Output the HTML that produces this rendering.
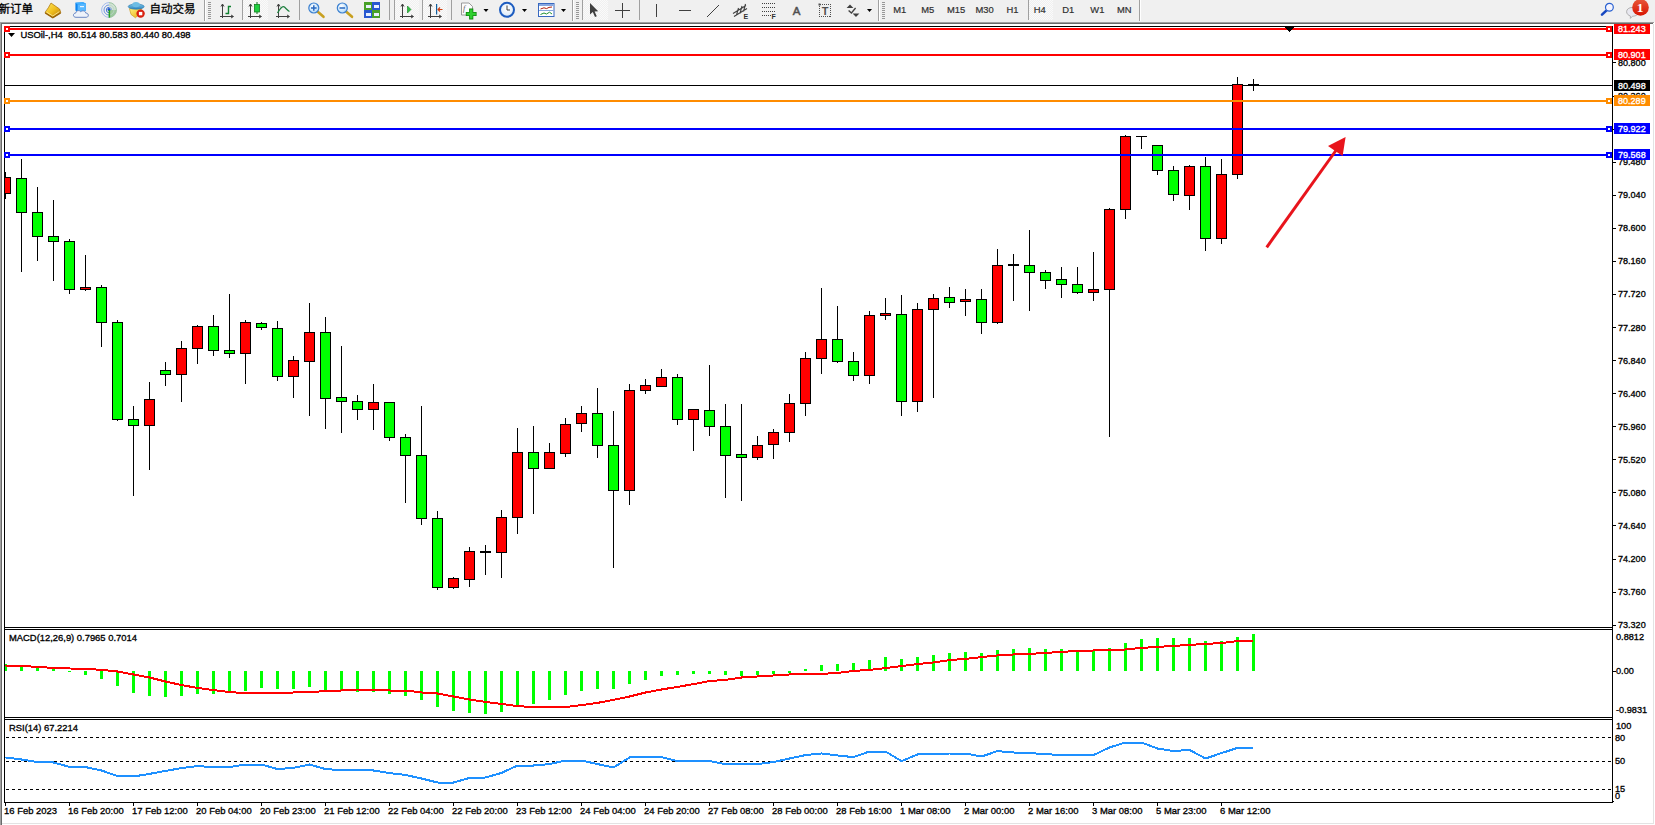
<!DOCTYPE html>
<html><head><meta charset="utf-8"><title>USOil-,H4</title>
<style>
html,body{margin:0;padding:0;background:#f0f0f0;overflow:hidden}
body{width:1655px;height:825px;position:relative;font-family:"Liberation Sans","Noto Sans CJK SC",sans-serif}
#tb{position:absolute;left:0;top:0;width:1655px;height:22px;background:#f0f0f0;overflow:hidden}
</style></head><body>
<svg id="chart" width="1655" height="825" viewBox="0 0 1655 825" style="position:absolute;left:0;top:0">
<defs><clipPath id="cm"><rect x="5" y="27" width="1607" height="600"/></clipPath><clipPath id="c2"><rect x="5" y="630" width="1607" height="87"/></clipPath><clipPath id="c3"><rect x="5" y="720" width="1607" height="82"/></clipPath></defs>
<g shape-rendering="crispEdges">
<rect x="0" y="22" width="1655" height="803" fill="#fff"/>
<rect x="0" y="22" width="1654" height="1" fill="#a0a0a0"/><rect x="0" y="23" width="1653" height="1" fill="#696969"/>
<rect x="0" y="22" width="1" height="803" fill="#a0a0a0"/><rect x="1" y="23" width="1" height="802" fill="#696969"/>
<rect x="1653" y="24" width="1" height="800" fill="#e3e3e3"/>
<rect x="2" y="823" width="1652" height="1" fill="#e3e3e3"/>
<rect x="1613" y="801" width="1" height="1" fill="#000"/>
<rect x="4" y="26" width="1609" height="1" fill="#000"/>
<rect x="4" y="26" width="1" height="777" fill="#000"/>
<rect x="1612" y="26" width="1" height="777" fill="#000"/>
<rect x="4" y="627" width="1609" height="1" fill="#000"/><rect x="4" y="629" width="1609" height="1" fill="#000"/>
<rect x="4" y="717" width="1609" height="1" fill="#000"/><rect x="4" y="719" width="1609" height="1" fill="#000"/>
<rect x="4" y="802" width="1609" height="1" fill="#000"/>
<rect x="5" y="85" width="1607" height="1" fill="#000"/>
<g clip-path="url(#cm)">
<rect x="5" y="172" width="1" height="27" fill="#000"/>
<rect x="0" y="177" width="11" height="17" fill="#000"/>
<rect x="1" y="178" width="9" height="15" fill="#FF0000"/>
<rect x="21" y="159" width="1" height="113" fill="#000"/>
<rect x="16" y="178" width="11" height="35" fill="#000"/>
<rect x="17" y="179" width="9" height="33" fill="#00FF00"/>
<rect x="37" y="187" width="1" height="74" fill="#000"/>
<rect x="32" y="212" width="11" height="25" fill="#000"/>
<rect x="33" y="213" width="9" height="23" fill="#00FF00"/>
<rect x="53" y="200" width="1" height="81" fill="#000"/>
<rect x="48" y="236" width="11" height="6" fill="#000"/>
<rect x="49" y="237" width="9" height="4" fill="#00FF00"/>
<rect x="69" y="239" width="1" height="55" fill="#000"/>
<rect x="64" y="241" width="11" height="49" fill="#000"/>
<rect x="65" y="242" width="9" height="47" fill="#00FF00"/>
<rect x="85" y="255" width="1" height="36" fill="#000"/>
<rect x="80" y="287" width="11" height="3" fill="#000"/>
<rect x="81" y="288" width="9" height="1" fill="#FF0000"/>
<rect x="101" y="285" width="1" height="62" fill="#000"/>
<rect x="96" y="287" width="11" height="36" fill="#000"/>
<rect x="97" y="288" width="9" height="34" fill="#00FF00"/>
<rect x="117" y="320" width="1" height="101" fill="#000"/>
<rect x="112" y="322" width="11" height="98" fill="#000"/>
<rect x="113" y="323" width="9" height="96" fill="#00FF00"/>
<rect x="133" y="406" width="1" height="90" fill="#000"/>
<rect x="128" y="419" width="11" height="7" fill="#000"/>
<rect x="129" y="420" width="9" height="5" fill="#00FF00"/>
<rect x="149" y="382" width="1" height="88" fill="#000"/>
<rect x="144" y="399" width="11" height="27" fill="#000"/>
<rect x="145" y="400" width="9" height="25" fill="#FF0000"/>
<rect x="165" y="362" width="1" height="24" fill="#000"/>
<rect x="160" y="370" width="11" height="5" fill="#000"/>
<rect x="161" y="371" width="9" height="3" fill="#00FF00"/>
<rect x="181" y="341" width="1" height="61" fill="#000"/>
<rect x="176" y="348" width="11" height="27" fill="#000"/>
<rect x="177" y="349" width="9" height="25" fill="#FF0000"/>
<rect x="197" y="325" width="1" height="39" fill="#000"/>
<rect x="192" y="326" width="11" height="23" fill="#000"/>
<rect x="193" y="327" width="9" height="21" fill="#FF0000"/>
<rect x="213" y="315" width="1" height="41" fill="#000"/>
<rect x="208" y="326" width="11" height="25" fill="#000"/>
<rect x="209" y="327" width="9" height="23" fill="#00FF00"/>
<rect x="229" y="294" width="1" height="64" fill="#000"/>
<rect x="224" y="350" width="11" height="4" fill="#000"/>
<rect x="225" y="351" width="9" height="2" fill="#00FF00"/>
<rect x="245" y="320" width="1" height="64" fill="#000"/>
<rect x="240" y="322" width="11" height="32" fill="#000"/>
<rect x="241" y="323" width="9" height="30" fill="#FF0000"/>
<rect x="261" y="322" width="1" height="8" fill="#000"/>
<rect x="256" y="323" width="11" height="5" fill="#000"/>
<rect x="257" y="324" width="9" height="3" fill="#00FF00"/>
<rect x="277" y="321" width="1" height="60" fill="#000"/>
<rect x="272" y="328" width="11" height="49" fill="#000"/>
<rect x="273" y="329" width="9" height="47" fill="#00FF00"/>
<rect x="293" y="356" width="1" height="42" fill="#000"/>
<rect x="288" y="360" width="11" height="17" fill="#000"/>
<rect x="289" y="361" width="9" height="15" fill="#FF0000"/>
<rect x="309" y="303" width="1" height="113" fill="#000"/>
<rect x="304" y="332" width="11" height="30" fill="#000"/>
<rect x="305" y="333" width="9" height="28" fill="#FF0000"/>
<rect x="325" y="317" width="1" height="112" fill="#000"/>
<rect x="320" y="332" width="11" height="67" fill="#000"/>
<rect x="321" y="333" width="9" height="65" fill="#00FF00"/>
<rect x="341" y="346" width="1" height="87" fill="#000"/>
<rect x="336" y="397" width="11" height="5" fill="#000"/>
<rect x="337" y="398" width="9" height="3" fill="#00FF00"/>
<rect x="357" y="395" width="1" height="25" fill="#000"/>
<rect x="352" y="401" width="11" height="9" fill="#000"/>
<rect x="353" y="402" width="9" height="7" fill="#00FF00"/>
<rect x="373" y="384" width="1" height="46" fill="#000"/>
<rect x="368" y="402" width="11" height="8" fill="#000"/>
<rect x="369" y="403" width="9" height="6" fill="#FF0000"/>
<rect x="389" y="402" width="1" height="39" fill="#000"/>
<rect x="384" y="402" width="11" height="36" fill="#000"/>
<rect x="385" y="403" width="9" height="34" fill="#00FF00"/>
<rect x="405" y="434" width="1" height="69" fill="#000"/>
<rect x="400" y="437" width="11" height="19" fill="#000"/>
<rect x="401" y="438" width="9" height="17" fill="#00FF00"/>
<rect x="421" y="406" width="1" height="119" fill="#000"/>
<rect x="416" y="455" width="11" height="64" fill="#000"/>
<rect x="417" y="456" width="9" height="62" fill="#00FF00"/>
<rect x="437" y="511" width="1" height="79" fill="#000"/>
<rect x="432" y="518" width="11" height="70" fill="#000"/>
<rect x="433" y="519" width="9" height="68" fill="#00FF00"/>
<rect x="453" y="577" width="1" height="12" fill="#000"/>
<rect x="448" y="578" width="11" height="10" fill="#000"/>
<rect x="449" y="579" width="9" height="8" fill="#FF0000"/>
<rect x="469" y="547" width="1" height="40" fill="#000"/>
<rect x="464" y="551" width="11" height="29" fill="#000"/>
<rect x="465" y="552" width="9" height="27" fill="#FF0000"/>
<rect x="485" y="545" width="1" height="30" fill="#000"/>
<rect x="480" y="551" width="11" height="2" fill="#000"/>
<rect x="501" y="510" width="1" height="68" fill="#000"/>
<rect x="496" y="517" width="11" height="36" fill="#000"/>
<rect x="497" y="518" width="9" height="34" fill="#FF0000"/>
<rect x="517" y="428" width="1" height="106" fill="#000"/>
<rect x="512" y="452" width="11" height="66" fill="#000"/>
<rect x="513" y="453" width="9" height="64" fill="#FF0000"/>
<rect x="533" y="426" width="1" height="88" fill="#000"/>
<rect x="528" y="452" width="11" height="17" fill="#000"/>
<rect x="529" y="453" width="9" height="15" fill="#00FF00"/>
<rect x="549" y="443" width="1" height="25" fill="#000"/>
<rect x="544" y="452" width="11" height="17" fill="#000"/>
<rect x="545" y="453" width="9" height="15" fill="#FF0000"/>
<rect x="565" y="418" width="1" height="39" fill="#000"/>
<rect x="560" y="424" width="11" height="30" fill="#000"/>
<rect x="561" y="425" width="9" height="28" fill="#FF0000"/>
<rect x="581" y="406" width="1" height="26" fill="#000"/>
<rect x="576" y="413" width="11" height="11" fill="#000"/>
<rect x="577" y="414" width="9" height="9" fill="#FF0000"/>
<rect x="597" y="388" width="1" height="70" fill="#000"/>
<rect x="592" y="413" width="11" height="33" fill="#000"/>
<rect x="593" y="414" width="9" height="31" fill="#00FF00"/>
<rect x="613" y="411" width="1" height="157" fill="#000"/>
<rect x="608" y="445" width="11" height="46" fill="#000"/>
<rect x="609" y="446" width="9" height="44" fill="#00FF00"/>
<rect x="629" y="384" width="1" height="121" fill="#000"/>
<rect x="624" y="390" width="11" height="101" fill="#000"/>
<rect x="625" y="391" width="9" height="99" fill="#FF0000"/>
<rect x="645" y="379" width="1" height="15" fill="#000"/>
<rect x="640" y="385" width="11" height="6" fill="#000"/>
<rect x="641" y="386" width="9" height="4" fill="#FF0000"/>
<rect x="661" y="369" width="1" height="17" fill="#000"/>
<rect x="656" y="377" width="11" height="10" fill="#000"/>
<rect x="657" y="378" width="9" height="8" fill="#FF0000"/>
<rect x="677" y="374" width="1" height="51" fill="#000"/>
<rect x="672" y="377" width="11" height="43" fill="#000"/>
<rect x="673" y="378" width="9" height="41" fill="#00FF00"/>
<rect x="693" y="409" width="1" height="42" fill="#000"/>
<rect x="688" y="409" width="11" height="11" fill="#000"/>
<rect x="689" y="410" width="9" height="9" fill="#FF0000"/>
<rect x="709" y="365" width="1" height="71" fill="#000"/>
<rect x="704" y="410" width="11" height="17" fill="#000"/>
<rect x="705" y="411" width="9" height="15" fill="#00FF00"/>
<rect x="725" y="404" width="1" height="94" fill="#000"/>
<rect x="720" y="426" width="11" height="30" fill="#000"/>
<rect x="721" y="427" width="9" height="28" fill="#00FF00"/>
<rect x="741" y="404" width="1" height="97" fill="#000"/>
<rect x="736" y="454" width="11" height="4" fill="#000"/>
<rect x="737" y="455" width="9" height="2" fill="#00FF00"/>
<rect x="757" y="436" width="1" height="24" fill="#000"/>
<rect x="752" y="445" width="11" height="13" fill="#000"/>
<rect x="753" y="446" width="9" height="11" fill="#FF0000"/>
<rect x="773" y="429" width="1" height="30" fill="#000"/>
<rect x="768" y="432" width="11" height="13" fill="#000"/>
<rect x="769" y="433" width="9" height="11" fill="#FF0000"/>
<rect x="789" y="394" width="1" height="48" fill="#000"/>
<rect x="784" y="403" width="11" height="30" fill="#000"/>
<rect x="785" y="404" width="9" height="28" fill="#FF0000"/>
<rect x="805" y="352" width="1" height="64" fill="#000"/>
<rect x="800" y="358" width="11" height="46" fill="#000"/>
<rect x="801" y="359" width="9" height="44" fill="#FF0000"/>
<rect x="821" y="288" width="1" height="86" fill="#000"/>
<rect x="816" y="339" width="11" height="20" fill="#000"/>
<rect x="817" y="340" width="9" height="18" fill="#FF0000"/>
<rect x="837" y="306" width="1" height="57" fill="#000"/>
<rect x="832" y="339" width="11" height="23" fill="#000"/>
<rect x="833" y="340" width="9" height="21" fill="#00FF00"/>
<rect x="853" y="352" width="1" height="29" fill="#000"/>
<rect x="848" y="361" width="11" height="15" fill="#000"/>
<rect x="849" y="362" width="9" height="13" fill="#00FF00"/>
<rect x="869" y="311" width="1" height="73" fill="#000"/>
<rect x="864" y="315" width="11" height="61" fill="#000"/>
<rect x="865" y="316" width="9" height="59" fill="#FF0000"/>
<rect x="885" y="298" width="1" height="22" fill="#000"/>
<rect x="880" y="313" width="11" height="3" fill="#000"/>
<rect x="881" y="314" width="9" height="1" fill="#FF0000"/>
<rect x="901" y="295" width="1" height="121" fill="#000"/>
<rect x="896" y="314" width="11" height="88" fill="#000"/>
<rect x="897" y="315" width="9" height="86" fill="#00FF00"/>
<rect x="917" y="303" width="1" height="109" fill="#000"/>
<rect x="912" y="309" width="11" height="93" fill="#000"/>
<rect x="913" y="310" width="9" height="91" fill="#FF0000"/>
<rect x="933" y="294" width="1" height="104" fill="#000"/>
<rect x="928" y="298" width="11" height="12" fill="#000"/>
<rect x="929" y="299" width="9" height="10" fill="#FF0000"/>
<rect x="949" y="287" width="1" height="21" fill="#000"/>
<rect x="944" y="297" width="11" height="6" fill="#000"/>
<rect x="945" y="298" width="9" height="4" fill="#00FF00"/>
<rect x="965" y="289" width="1" height="27" fill="#000"/>
<rect x="960" y="299" width="11" height="3" fill="#000"/>
<rect x="961" y="300" width="9" height="1" fill="#FF0000"/>
<rect x="981" y="289" width="1" height="45" fill="#000"/>
<rect x="976" y="299" width="11" height="24" fill="#000"/>
<rect x="977" y="300" width="9" height="22" fill="#00FF00"/>
<rect x="997" y="249" width="1" height="75" fill="#000"/>
<rect x="992" y="265" width="11" height="58" fill="#000"/>
<rect x="993" y="266" width="9" height="56" fill="#FF0000"/>
<rect x="1013" y="254" width="1" height="47" fill="#000"/>
<rect x="1008" y="264" width="11" height="2" fill="#000"/>
<rect x="1029" y="230" width="1" height="81" fill="#000"/>
<rect x="1024" y="265" width="11" height="8" fill="#000"/>
<rect x="1025" y="266" width="9" height="6" fill="#00FF00"/>
<rect x="1045" y="270" width="1" height="19" fill="#000"/>
<rect x="1040" y="272" width="11" height="9" fill="#000"/>
<rect x="1041" y="273" width="9" height="7" fill="#00FF00"/>
<rect x="1061" y="267" width="1" height="31" fill="#000"/>
<rect x="1056" y="279" width="11" height="6" fill="#000"/>
<rect x="1057" y="280" width="9" height="4" fill="#00FF00"/>
<rect x="1077" y="267" width="1" height="27" fill="#000"/>
<rect x="1072" y="284" width="11" height="9" fill="#000"/>
<rect x="1073" y="285" width="9" height="7" fill="#00FF00"/>
<rect x="1093" y="252" width="1" height="49" fill="#000"/>
<rect x="1088" y="289" width="11" height="4" fill="#000"/>
<rect x="1089" y="290" width="9" height="2" fill="#FF0000"/>
<rect x="1109" y="208" width="1" height="229" fill="#000"/>
<rect x="1104" y="209" width="11" height="81" fill="#000"/>
<rect x="1105" y="210" width="9" height="79" fill="#FF0000"/>
<rect x="1125" y="135" width="1" height="84" fill="#000"/>
<rect x="1120" y="136" width="11" height="74" fill="#000"/>
<rect x="1121" y="137" width="9" height="72" fill="#FF0000"/>
<rect x="1141" y="136" width="1" height="13" fill="#000"/>
<rect x="1136" y="136" width="11" height="1" fill="#000"/>
<rect x="1157" y="145" width="1" height="30" fill="#000"/>
<rect x="1152" y="145" width="11" height="26" fill="#000"/>
<rect x="1153" y="146" width="9" height="24" fill="#00FF00"/>
<rect x="1173" y="166" width="1" height="35" fill="#000"/>
<rect x="1168" y="170" width="11" height="25" fill="#000"/>
<rect x="1169" y="171" width="9" height="23" fill="#00FF00"/>
<rect x="1189" y="165" width="1" height="45" fill="#000"/>
<rect x="1184" y="166" width="11" height="30" fill="#000"/>
<rect x="1185" y="167" width="9" height="28" fill="#FF0000"/>
<rect x="1205" y="157" width="1" height="94" fill="#000"/>
<rect x="1200" y="166" width="11" height="73" fill="#000"/>
<rect x="1201" y="167" width="9" height="71" fill="#00FF00"/>
<rect x="1221" y="159" width="1" height="85" fill="#000"/>
<rect x="1216" y="174" width="11" height="65" fill="#000"/>
<rect x="1217" y="175" width="9" height="63" fill="#FF0000"/>
<rect x="1237" y="77" width="1" height="102" fill="#000"/>
<rect x="1232" y="84" width="11" height="91" fill="#000"/>
<rect x="1233" y="85" width="9" height="89" fill="#FF0000"/>
<rect x="1253" y="79" width="1" height="12" fill="#000"/>
<rect x="1248" y="84" width="11" height="1" fill="#000"/>
</g>
<rect x="5" y="28" width="1607" height="2" fill="#FF0000"/>
<rect x="4" y="26" width="6" height="6" fill="#FF0000"/><rect x="6" y="28" width="2" height="2" fill="#fff"/>
<rect x="1606" y="26" width="6" height="6" fill="#FF0000"/><rect x="1608" y="28" width="2" height="2" fill="#fff"/>
<rect x="5" y="54" width="1607" height="2" fill="#FF0000"/>
<rect x="4" y="52" width="6" height="6" fill="#FF0000"/><rect x="6" y="54" width="2" height="2" fill="#fff"/>
<rect x="1606" y="52" width="6" height="6" fill="#FF0000"/><rect x="1608" y="54" width="2" height="2" fill="#fff"/>
<rect x="5" y="100" width="1607" height="2" fill="#FF8C00"/>
<rect x="4" y="98" width="6" height="6" fill="#FF8C00"/><rect x="6" y="100" width="2" height="2" fill="#fff"/>
<rect x="1606" y="98" width="6" height="6" fill="#FF8C00"/><rect x="1608" y="100" width="2" height="2" fill="#fff"/>
<rect x="5" y="128" width="1607" height="2" fill="#0000FF"/>
<rect x="4" y="126" width="6" height="6" fill="#0000FF"/><rect x="6" y="128" width="2" height="2" fill="#fff"/>
<rect x="1606" y="126" width="6" height="6" fill="#0000FF"/><rect x="1608" y="128" width="2" height="2" fill="#fff"/>
<rect x="5" y="154" width="1607" height="2" fill="#0000FF"/>
<rect x="4" y="152" width="6" height="6" fill="#0000FF"/><rect x="6" y="154" width="2" height="2" fill="#fff"/>
<rect x="1606" y="152" width="6" height="6" fill="#0000FF"/><rect x="1608" y="154" width="2" height="2" fill="#fff"/>
<rect x="1285" y="27" width="9" height="1" fill="#000"/>
<rect x="1286" y="28" width="7" height="1" fill="#000"/>
<rect x="1287" y="29" width="5" height="1" fill="#000"/>
<rect x="1288" y="30" width="3" height="1" fill="#000"/>
<rect x="1289" y="31" width="1" height="1" fill="#000"/>
<rect x="1613" y="62" width="3" height="1" fill="#000"/>
<rect x="1613" y="96" width="3" height="1" fill="#000"/>
<rect x="1613" y="129" width="3" height="1" fill="#000"/>
<rect x="1613" y="162" width="3" height="1" fill="#000"/>
<rect x="1613" y="195" width="3" height="1" fill="#000"/>
<rect x="1613" y="228" width="3" height="1" fill="#000"/>
<rect x="1613" y="261" width="3" height="1" fill="#000"/>
<rect x="1613" y="294" width="3" height="1" fill="#000"/>
<rect x="1613" y="327" width="3" height="1" fill="#000"/>
<rect x="1613" y="360" width="3" height="1" fill="#000"/>
<rect x="1613" y="393" width="3" height="1" fill="#000"/>
<rect x="1613" y="426" width="3" height="1" fill="#000"/>
<rect x="1613" y="459" width="3" height="1" fill="#000"/>
<rect x="1613" y="492" width="3" height="1" fill="#000"/>
<rect x="1613" y="525" width="3" height="1" fill="#000"/>
<rect x="1613" y="559" width="3" height="1" fill="#000"/>
<rect x="1613" y="592" width="3" height="1" fill="#000"/>
<rect x="1613" y="625" width="3" height="1" fill="#000"/>
<rect x="1613" y="671" width="3" height="1" fill="#000"/>
<g clip-path="url(#c2)">
<rect x="4" y="664" width="3" height="7" fill="#00FF00"/>
<rect x="20" y="665" width="3" height="6" fill="#00FF00"/>
<rect x="36" y="666" width="3" height="5" fill="#00FF00"/>
<rect x="52" y="667" width="3" height="4" fill="#00FF00"/>
<rect x="68" y="671" width="3" height="1" fill="#00FF00"/>
<rect x="84" y="671" width="3" height="4" fill="#00FF00"/>
<rect x="100" y="671" width="3" height="8" fill="#00FF00"/>
<rect x="116" y="671" width="3" height="15" fill="#00FF00"/>
<rect x="132" y="671" width="3" height="22" fill="#00FF00"/>
<rect x="148" y="671" width="3" height="25" fill="#00FF00"/>
<rect x="164" y="671" width="3" height="26" fill="#00FF00"/>
<rect x="180" y="671" width="3" height="25" fill="#00FF00"/>
<rect x="196" y="671" width="3" height="23" fill="#00FF00"/>
<rect x="212" y="671" width="3" height="23" fill="#00FF00"/>
<rect x="228" y="671" width="3" height="21" fill="#00FF00"/>
<rect x="244" y="671" width="3" height="20" fill="#00FF00"/>
<rect x="260" y="671" width="3" height="17" fill="#00FF00"/>
<rect x="276" y="671" width="3" height="18" fill="#00FF00"/>
<rect x="292" y="671" width="3" height="18" fill="#00FF00"/>
<rect x="308" y="671" width="3" height="16" fill="#00FF00"/>
<rect x="324" y="671" width="3" height="19" fill="#00FF00"/>
<rect x="340" y="671" width="3" height="19" fill="#00FF00"/>
<rect x="356" y="671" width="3" height="21" fill="#00FF00"/>
<rect x="372" y="671" width="3" height="21" fill="#00FF00"/>
<rect x="388" y="671" width="3" height="23" fill="#00FF00"/>
<rect x="404" y="671" width="3" height="25" fill="#00FF00"/>
<rect x="420" y="671" width="3" height="29" fill="#00FF00"/>
<rect x="436" y="671" width="3" height="36" fill="#00FF00"/>
<rect x="452" y="671" width="3" height="40" fill="#00FF00"/>
<rect x="468" y="671" width="3" height="42" fill="#00FF00"/>
<rect x="484" y="671" width="3" height="43" fill="#00FF00"/>
<rect x="500" y="671" width="3" height="41" fill="#00FF00"/>
<rect x="516" y="671" width="3" height="36" fill="#00FF00"/>
<rect x="532" y="671" width="3" height="33" fill="#00FF00"/>
<rect x="548" y="671" width="3" height="29" fill="#00FF00"/>
<rect x="564" y="671" width="3" height="24" fill="#00FF00"/>
<rect x="580" y="671" width="3" height="20" fill="#00FF00"/>
<rect x="596" y="671" width="3" height="18" fill="#00FF00"/>
<rect x="612" y="671" width="3" height="18" fill="#00FF00"/>
<rect x="628" y="671" width="3" height="13" fill="#00FF00"/>
<rect x="644" y="671" width="3" height="9" fill="#00FF00"/>
<rect x="660" y="671" width="3" height="5" fill="#00FF00"/>
<rect x="676" y="671" width="3" height="4" fill="#00FF00"/>
<rect x="692" y="671" width="3" height="3" fill="#00FF00"/>
<rect x="708" y="671" width="3" height="3" fill="#00FF00"/>
<rect x="724" y="671" width="3" height="4" fill="#00FF00"/>
<rect x="740" y="671" width="3" height="5" fill="#00FF00"/>
<rect x="756" y="671" width="3" height="4" fill="#00FF00"/>
<rect x="772" y="671" width="3" height="3" fill="#00FF00"/>
<rect x="788" y="671" width="3" height="2" fill="#00FF00"/>
<rect x="804" y="669" width="3" height="2" fill="#00FF00"/>
<rect x="820" y="665" width="3" height="6" fill="#00FF00"/>
<rect x="836" y="664" width="3" height="7" fill="#00FF00"/>
<rect x="852" y="663" width="3" height="8" fill="#00FF00"/>
<rect x="868" y="660" width="3" height="11" fill="#00FF00"/>
<rect x="884" y="657" width="3" height="14" fill="#00FF00"/>
<rect x="900" y="659" width="3" height="12" fill="#00FF00"/>
<rect x="916" y="657" width="3" height="14" fill="#00FF00"/>
<rect x="932" y="655" width="3" height="16" fill="#00FF00"/>
<rect x="948" y="653" width="3" height="18" fill="#00FF00"/>
<rect x="964" y="652" width="3" height="19" fill="#00FF00"/>
<rect x="980" y="653" width="3" height="18" fill="#00FF00"/>
<rect x="996" y="650" width="3" height="21" fill="#00FF00"/>
<rect x="1012" y="649" width="3" height="22" fill="#00FF00"/>
<rect x="1028" y="648" width="3" height="23" fill="#00FF00"/>
<rect x="1044" y="649" width="3" height="22" fill="#00FF00"/>
<rect x="1060" y="649" width="3" height="22" fill="#00FF00"/>
<rect x="1076" y="650" width="3" height="21" fill="#00FF00"/>
<rect x="1092" y="650" width="3" height="21" fill="#00FF00"/>
<rect x="1108" y="648" width="3" height="23" fill="#00FF00"/>
<rect x="1124" y="643" width="3" height="28" fill="#00FF00"/>
<rect x="1140" y="639" width="3" height="32" fill="#00FF00"/>
<rect x="1156" y="638" width="3" height="33" fill="#00FF00"/>
<rect x="1172" y="638" width="3" height="33" fill="#00FF00"/>
<rect x="1188" y="638" width="3" height="33" fill="#00FF00"/>
<rect x="1204" y="641" width="3" height="30" fill="#00FF00"/>
<rect x="1220" y="641" width="3" height="30" fill="#00FF00"/>
<rect x="1236" y="637" width="3" height="34" fill="#00FF00"/>
<rect x="1252" y="634" width="3" height="37" fill="#00FF00"/>
</g>
<path d="M6 737.5 H1612" stroke="#000" stroke-width="1" stroke-dasharray="3 3" fill="none"/>
<path d="M6 761.5 H1612" stroke="#000" stroke-width="1" stroke-dasharray="3 3" fill="none"/>
<path d="M6 789.5 H1612" stroke="#000" stroke-width="1" stroke-dasharray="3 3" fill="none"/>
<rect x="5" y="803" width="1" height="3" fill="#000"/>
<rect x="69" y="803" width="1" height="3" fill="#000"/>
<rect x="133" y="803" width="1" height="3" fill="#000"/>
<rect x="197" y="803" width="1" height="3" fill="#000"/>
<rect x="261" y="803" width="1" height="3" fill="#000"/>
<rect x="325" y="803" width="1" height="3" fill="#000"/>
<rect x="389" y="803" width="1" height="3" fill="#000"/>
<rect x="453" y="803" width="1" height="3" fill="#000"/>
<rect x="517" y="803" width="1" height="3" fill="#000"/>
<rect x="581" y="803" width="1" height="3" fill="#000"/>
<rect x="645" y="803" width="1" height="3" fill="#000"/>
<rect x="709" y="803" width="1" height="3" fill="#000"/>
<rect x="773" y="803" width="1" height="3" fill="#000"/>
<rect x="837" y="803" width="1" height="3" fill="#000"/>
<rect x="901" y="803" width="1" height="3" fill="#000"/>
<rect x="965" y="803" width="1" height="3" fill="#000"/>
<rect x="1029" y="803" width="1" height="3" fill="#000"/>
<rect x="1093" y="803" width="1" height="3" fill="#000"/>
<rect x="1157" y="803" width="1" height="3" fill="#000"/>
<rect x="1221" y="803" width="1" height="3" fill="#000"/>
</g>
<polyline clip-path="url(#c2)" points="5.5,665.5 21.5,665.9 37.5,666.9 53.5,667.9 69.5,668.5 85.5,668.7 101.5,669.9 117.5,671.5 133.5,674.5 149.5,677.5 165.5,681.5 181.5,685.1 197.5,687.9 213.5,690.1 229.5,692.1 245.5,693.1 261.5,693.1 277.5,692.9 293.5,692.5 309.5,692.1 325.5,691.1 341.5,690.5 357.5,689.5 373.5,689.5 389.5,690.5 405.5,690.5 421.5,692.5 437.5,693.5 453.5,696.5 469.5,699.5 485.5,701.9 501.5,703.9 517.5,706.1 533.5,707.1 549.5,707.5 565.5,707.1 581.5,705.1 597.5,702.9 613.5,699.9 629.5,696.5 645.5,692.5 661.5,689.5 677.5,686.9 693.5,684.1 709.5,681.1 725.5,679.9 741.5,677.5 757.5,676.5 773.5,675.5 789.5,674.5 805.5,674.1 821.5,673.9 837.5,672.9 853.5,670.9 869.5,669.9 885.5,668.1 901.5,666.1 917.5,664.1 933.5,662.5 949.5,660.1 965.5,658.9 981.5,657.1 997.5,655.5 1013.5,654.5 1029.5,653.9 1045.5,652.9 1061.5,651.9 1077.5,650.9 1093.5,650.5 1109.5,650.1 1125.5,649.5 1141.5,647.9 1157.5,646.9 1173.5,645.9 1189.5,644.9 1205.5,643.9 1221.5,643.1 1237.5,641.1 1253.5,640.5" fill="none" stroke="#FF0000" stroke-width="2" stroke-linejoin="round" shape-rendering="crispEdges"/>
<polyline clip-path="url(#c3)" points="5.5,757.5 21.5,759.5 37.5,762.1 53.5,762.5 69.5,766.9 85.5,767.1 101.5,770.5 117.5,776.1 133.5,776.5 149.5,773.9 165.5,770.9 181.5,768.1 197.5,766.1 213.5,767.1 229.5,767.1 245.5,764.5 261.5,764.5 277.5,769.1 293.5,767.9 309.5,764.5 325.5,769.1 341.5,770.1 357.5,770.1 373.5,770.5 389.5,773.1 405.5,774.9 421.5,778.5 437.5,782.5 453.5,782.5 469.5,777.9 485.5,777.5 501.5,772.9 517.5,765.5 533.5,765.5 549.5,764.1 565.5,760.5 581.5,760.5 597.5,764.1 613.5,767.5 629.5,757.5 645.5,757.1 661.5,757.1 677.5,761.1 693.5,761.1 709.5,761.1 725.5,764.1 741.5,764.1 757.5,764.1 773.5,762.1 789.5,758.5 805.5,755.1 821.5,753.5 837.5,755.5 853.5,757.1 869.5,751.5 885.5,751.5 901.5,761.1 917.5,754.5 933.5,753.9 949.5,753.5 965.5,753.5 981.5,756.5 997.5,751.1 1013.5,752.5 1029.5,753.1 1045.5,754.1 1061.5,755.1 1077.5,755.1 1093.5,755.1 1109.5,747.5 1125.5,742.5 1141.5,742.5 1157.5,748.5 1173.5,751.1 1189.5,749.9 1205.5,758.5 1221.5,753.1 1237.5,747.9 1253.5,747.5" fill="none" stroke="#1E90FF" stroke-width="2" stroke-linejoin="round" shape-rendering="crispEdges"/>
<path d="M1266.7 247.3 L1337 149" stroke="#E8141C" stroke-width="3" fill="none"/>
<path d="M1345.6 137 L1328 146 L1342.6 156 Z" fill="#E8141C"/>
<g font-family="Liberation Sans, sans-serif" font-size="9.5px" stroke-width="0.32">
<text transform="translate(1618,66.4) scale(0.955,1)" fill="#000" stroke="#000" >80.800</text>
<text transform="translate(1618,99.4) scale(0.955,1)" fill="#000" stroke="#000" >80.360</text>
<text transform="translate(1618,132.4) scale(0.955,1)" fill="#000" stroke="#000" >79.920</text>
<text transform="translate(1618,165.4) scale(0.955,1)" fill="#000" stroke="#000" >79.480</text>
<text transform="translate(1618,198.4) scale(0.955,1)" fill="#000" stroke="#000" >79.040</text>
<text transform="translate(1618,231.4) scale(0.955,1)" fill="#000" stroke="#000" >78.600</text>
<text transform="translate(1618,264.4) scale(0.955,1)" fill="#000" stroke="#000" >78.160</text>
<text transform="translate(1618,297.4) scale(0.955,1)" fill="#000" stroke="#000" >77.720</text>
<text transform="translate(1618,331.4) scale(0.955,1)" fill="#000" stroke="#000" >77.280</text>
<text transform="translate(1618,364.4) scale(0.955,1)" fill="#000" stroke="#000" >76.840</text>
<text transform="translate(1618,397.4) scale(0.955,1)" fill="#000" stroke="#000" >76.400</text>
<text transform="translate(1618,430.4) scale(0.955,1)" fill="#000" stroke="#000" >75.960</text>
<text transform="translate(1618,463.4) scale(0.955,1)" fill="#000" stroke="#000" >75.520</text>
<text transform="translate(1618,496.4) scale(0.955,1)" fill="#000" stroke="#000" >75.080</text>
<text transform="translate(1618,529.4) scale(0.955,1)" fill="#000" stroke="#000" >74.640</text>
<text transform="translate(1618,562.4) scale(0.955,1)" fill="#000" stroke="#000" >74.200</text>
<text transform="translate(1618,595.4) scale(0.955,1)" fill="#000" stroke="#000" >73.760</text>
<text transform="translate(1618,628.4) scale(0.955,1)" fill="#000" stroke="#000" >73.320</text>
<rect x="1614" y="24" width="36" height="10" fill="#FF0000" shape-rendering="crispEdges"/>
<text transform="translate(1618,31.7) scale(0.955,1)" fill="#fff" stroke="#fff" >81.243</text>
<rect x="1614" y="49" width="36" height="11" fill="#FF0000" shape-rendering="crispEdges"/>
<text transform="translate(1618,57.7) scale(0.955,1)" fill="#fff" stroke="#fff" >80.901</text>
<rect x="1614" y="80" width="36" height="11" fill="#000" shape-rendering="crispEdges"/>
<text transform="translate(1618,88.7) scale(0.955,1)" fill="#fff" stroke="#fff" >80.498</text>
<rect x="1614" y="95" width="36" height="11" fill="#FF8C00" shape-rendering="crispEdges"/>
<text transform="translate(1618,103.7) scale(0.955,1)" fill="#fff" stroke="#fff" >80.289</text>
<rect x="1614" y="123" width="36" height="11" fill="#0000FF" shape-rendering="crispEdges"/>
<text transform="translate(1618,131.7) scale(0.955,1)" fill="#fff" stroke="#fff" >79.922</text>
<rect x="1614" y="149" width="36" height="11" fill="#0000FF" shape-rendering="crispEdges"/>
<text transform="translate(1618,157.7) scale(0.955,1)" fill="#fff" stroke="#fff" >79.568</text>
<text transform="translate(1616,640.4) scale(0.965,1)" fill="#000" stroke="#000" >0.8812</text>
<text transform="translate(1616,674.4) scale(0.965,1)" fill="#000" stroke="#000" >0.00</text>
<text transform="translate(1616,713.4) scale(0.965,1)" fill="#000" stroke="#000" >-0.9831</text>
<text transform="translate(1616,729.4) scale(0.965,1)" fill="#000" stroke="#000" >100</text>
<text transform="translate(1615,740.9) scale(0.965,1)" fill="#000" stroke="#000" >80</text>
<text transform="translate(1615,764.4) scale(0.965,1)" fill="#000" stroke="#000" >50</text>
<text transform="translate(1615,792.4) scale(0.965,1)" fill="#000" stroke="#000" >15</text>
<text transform="translate(1615,798.9) scale(0.965,1)" fill="#000" stroke="#000" >0</text>
<text transform="translate(20.4,38.2) scale(0.99,1)" fill="#000" stroke="#000" >USOil-,H4&#160;&#160;80.514 80.583 80.440 80.498</text>
<text transform="translate(9,640.9) scale(0.99,1)" fill="#000" stroke="#000" >MACD(12,26,9) 0.7965 0.7014</text>
<text transform="translate(9,730.9) scale(0.99,1)" fill="#000" stroke="#000" >RSI(14) 67.2214</text>
<text transform="translate(4.0,814.4) scale(0.995,1)" fill="#000" stroke="#000" >16 Feb 2023</text>
<text transform="translate(68.0,814.4) scale(0.995,1)" fill="#000" stroke="#000" >16 Feb 20:00</text>
<text transform="translate(132.0,814.4) scale(0.995,1)" fill="#000" stroke="#000" >17 Feb 12:00</text>
<text transform="translate(196.0,814.4) scale(0.995,1)" fill="#000" stroke="#000" >20 Feb 04:00</text>
<text transform="translate(260.0,814.4) scale(0.995,1)" fill="#000" stroke="#000" >20 Feb 23:00</text>
<text transform="translate(324.0,814.4) scale(0.995,1)" fill="#000" stroke="#000" >21 Feb 12:00</text>
<text transform="translate(388.0,814.4) scale(0.995,1)" fill="#000" stroke="#000" >22 Feb 04:00</text>
<text transform="translate(452.0,814.4) scale(0.995,1)" fill="#000" stroke="#000" >22 Feb 20:00</text>
<text transform="translate(516.0,814.4) scale(0.995,1)" fill="#000" stroke="#000" >23 Feb 12:00</text>
<text transform="translate(580.0,814.4) scale(0.995,1)" fill="#000" stroke="#000" >24 Feb 04:00</text>
<text transform="translate(644.0,814.4) scale(0.995,1)" fill="#000" stroke="#000" >24 Feb 20:00</text>
<text transform="translate(708.0,814.4) scale(0.995,1)" fill="#000" stroke="#000" >27 Feb 08:00</text>
<text transform="translate(772.0,814.4) scale(0.995,1)" fill="#000" stroke="#000" >28 Feb 00:00</text>
<text transform="translate(836.0,814.4) scale(0.995,1)" fill="#000" stroke="#000" >28 Feb 16:00</text>
<text transform="translate(900.0,814.4) scale(0.995,1)" fill="#000" stroke="#000" >1 Mar 08:00</text>
<text transform="translate(964.0,814.4) scale(0.995,1)" fill="#000" stroke="#000" >2 Mar 00:00</text>
<text transform="translate(1028.0,814.4) scale(0.995,1)" fill="#000" stroke="#000" >2 Mar 16:00</text>
<text transform="translate(1092.0,814.4) scale(0.995,1)" fill="#000" stroke="#000" >3 Mar 08:00</text>
<text transform="translate(1156.0,814.4) scale(0.995,1)" fill="#000" stroke="#000" >5 Mar 23:00</text>
<text transform="translate(1220.0,814.4) scale(0.995,1)" fill="#000" stroke="#000" >6 Mar 12:00</text>
</g>
<path d="M8 33 H15 L11.5 37 Z" fill="#000"/>
</svg>
<div id="tb"><svg width="1655" height="22" viewBox="0 0 1655 22" style="position:absolute;left:0;top:0">
<defs>
<linearGradient id="gold" x1="0" y1="0" x2="1" y2="1"><stop offset="0" stop-color="#FFE860"/><stop offset="0.5" stop-color="#F0C020"/><stop offset="1" stop-color="#B87808"/></linearGradient>
<linearGradient id="badge" x1="0" y1="0" x2="0" y2="1"><stop offset="0" stop-color="#E8583A"/><stop offset="1" stop-color="#D81400"/></linearGradient>
<linearGradient id="hat" x1="0" y1="0" x2="0" y2="1"><stop offset="0" stop-color="#7CC4E8"/><stop offset="1" stop-color="#2C84C0"/></linearGradient>
<linearGradient id="face" x1="0" y1="0" x2="1" y2="1"><stop offset="0" stop-color="#FFF080"/><stop offset="1" stop-color="#E8B010"/></linearGradient>
<radialGradient id="lens" cx="0.4" cy="0.35" r="0.7"><stop offset="0" stop-color="#FFFFFF"/><stop offset="1" stop-color="#A8D4F8"/></radialGradient>
<radialGradient id="clk" cx="0.5" cy="0.4" r="0.6"><stop offset="0" stop-color="#FFFFFF"/><stop offset="1" stop-color="#D8E8F8"/></radialGradient>
<pattern id="chk" width="2" height="2" patternUnits="userSpaceOnUse"><rect width="2" height="2" fill="#f0f0f0"/><rect width="1" height="1" fill="#fafafa"/><rect x="1" y="1" width="1" height="1" fill="#fafafa"/></pattern>
<g id="axes" stroke="#404040" stroke-width="1" fill="none"><path d="M2.5 18 V4 M1 6.5 L2.5 4 L4 6.5 M0 16.5 H13 M11 15 L13.5 16.5 L11 18"/></g>
<path id="dd" d="M0 0 H5 L2.5 3 Z" fill="#000"/>
<g id="grip" fill="#989898"><rect x="0" y="2" width="3" height="1"/><rect x="0" y="4" width="3" height="1"/><rect x="0" y="6" width="3" height="1"/><rect x="0" y="8" width="3" height="1"/><rect x="0" y="10" width="3" height="1"/><rect x="0" y="12" width="3" height="1"/><rect x="0" y="14" width="3" height="1"/><rect x="0" y="16" width="3" height="1"/><rect x="0" y="18" width="3" height="1"/></g>
</defs>
<rect width="1655" height="22" fill="#f0f0f0"/>
<!-- pressed buttons -->
<g shape-rendering="crispEdges">
<rect x="243" y="0" width="25" height="20" fill="url(#chk)"/><rect x="242" y="0" width="1" height="20" fill="#a0a0a0"/>
<rect x="395" y="0" width="24" height="20" fill="url(#chk)"/><rect x="394" y="0" width="1" height="20" fill="#a0a0a0"/>
<rect x="423" y="0" width="24" height="20" fill="url(#chk)"/><rect x="422" y="0" width="1" height="20" fill="#a0a0a0"/>
<rect x="583" y="0" width="25" height="20" fill="url(#chk)"/><rect x="582" y="0" width="1" height="20" fill="#a0a0a0"/>
<rect x="1029" y="0" width="24" height="20" fill="url(#chk)"/><rect x="1028" y="0" width="1" height="20" fill="#a0a0a0"/>
<!-- separators -->
<g fill="#a0a0a0"><rect x="204" y="0" width="1" height="21"/><rect x="299" y="0" width="1" height="20"/><rect x="389" y="0" width="1" height="20"/><rect x="451" y="0" width="1" height="20"/><rect x="572" y="0" width="1" height="21"/><rect x="639" y="0" width="1" height="20"/><rect x="878" y="0" width="1" height="21"/><rect x="1139" y="0" width="1" height="21"/></g>
<g fill="#ffffff"><rect x="205" y="0" width="1" height="21"/><rect x="573" y="0" width="1" height="21"/><rect x="879" y="0" width="1" height="21"/><rect x="1140" y="0" width="1" height="21"/></g>
<use href="#grip" x="208" y="0"/><use href="#grip" x="576" y="0"/><use href="#grip" x="882" y="0"/>
</g>
<!-- text -->
<g font-family="'Liberation Sans','Noto Sans CJK SC',sans-serif" font-size="11.5px" fill="#000" stroke="#000" stroke-width="0.3">
<text x="-1.5" y="13">新订单</text><text x="149.5" y="13">自动交易</text>
</g>
<g font-family="'Liberation Sans',sans-serif" font-size="9.4px" fill="#303030" stroke="#303030" stroke-width="0.2" text-anchor="middle">
<text x="899.7" y="13.3">M1</text><text x="927.8" y="13.3">M5</text><text x="956.2" y="13.3">M15</text><text x="984.5" y="13.3">M30</text><text x="1012.5" y="13.3">H1</text><text x="1039.7" y="13.3">H4</text><text x="1068.3" y="13.3">D1</text><text x="1097.4" y="13.3">W1</text><text x="1124.2" y="13.3">MN</text>
</g>
<!-- book -->
<path d="M51 3 C49.4 6 47.4 9.6 45 12.4 L52.8 17.8 L60.8 12.6 L59.6 9 Z" fill="url(#gold)" stroke="#A87008" stroke-width="0.7"/>
<path d="M45.2 12.8 L52.8 17.6 L60.6 12.8" stroke="#9A6408" stroke-width="1.5" fill="none" stroke-linejoin="round"/>
<path d="M46.6 12.2 L52.8 16 L59.4 11.6" stroke="#FFEFA0" stroke-width="0.8" fill="none"/>
<!-- cloud/computer -->
<path d="M75.4 2.8 L83 2.2 L85.8 3.4 L85.8 11 L77.6 11.6 L75.4 10.4 Z" fill="#0C84F0"/><path d="M75.4 2.8 L83 2.2 L85.8 3.4 L77.6 4.4 Z" fill="#40B0FF"/><path d="M77.6 4.4 L85.8 3.4 V11 L77.6 11.6 Z" fill="#58B8FF"/><rect x="80" y="6" width="4" height="1.2" fill="#E8F4FF"/>
<path d="M76 17.3 C72.6 17.3 72.6 13.2 75.8 13 C76 10.4 79.6 9.8 80.8 11.8 C82.4 10 85.6 10.8 85.6 13 C89 13 89.4 17.3 86 17.3 Z" fill="#EEF2FA" stroke="#5C7CBC" stroke-width="0.9"/>
<!-- signal -->
<path d="M109 10 L109 2.4 A7.6 7.6 0 0 1 109 17.6 Z" fill="#A8D0A8" fill-opacity="0.4"/><path d="M109 10 L116.6 10 A7.6 7.6 0 0 1 109 17.6 Z" fill="#58A858" fill-opacity="0.45"/>
<g fill="none"><path d="M109 2.6 A7.4 7.4 0 0 0 109 17.4" stroke="#A4BCEC" stroke-width="1"/><path d="M109 5 A5 5 0 0 0 109 15" stroke="#6C94E0" stroke-width="1"/><path d="M109 7.3 A2.7 2.7 0 0 0 109 12.7" stroke="#4C78D4" stroke-width="1"/>
<path d="M109 2.6 A7.4 7.4 0 0 1 109 17.4" stroke="#9CC4A4" stroke-width="1"/><path d="M109 5 A5 5 0 0 1 109 15" stroke="#B8D4C8" stroke-width="0.9"/><path d="M109 7.3 A2.7 2.7 0 0 1 111.7 10" stroke="#8CA8E0" stroke-width="0.9"/></g>
<circle cx="109" cy="9.6" r="1.5" fill="#1C50C8"/><rect x="108.6" y="10" width="1.5" height="7.6" fill="#20A020"/>
<!-- hat -->
<path d="M129.4 8.6 L141.6 8.6 L139.6 14 L135.4 17.8 L131 14.4 Z" fill="url(#face)" stroke="#C89010" stroke-width="0.6"/>
<ellipse cx="136.2" cy="6.6" rx="8" ry="2.6" fill="url(#hat)" stroke="#2878B0" stroke-width="0.6"/><ellipse cx="136" cy="4.6" rx="3.8" ry="2.6" fill="#6CBCE4"/>
<circle cx="140.6" cy="13.6" r="4.2" fill="#D82010"/><rect x="138.9" y="11.9" width="3.4" height="3.4" fill="#fff"/>
<!-- chart type icons -->
<use href="#axes" x="220" y="0"/><path d="M225.5 13.5 H228.5 V6.5 H231" stroke="#108030" stroke-width="1.4" fill="none"/>
<use href="#axes" x="248" y="0"/><rect x="256.5" y="2" width="1" height="12" fill="#107020"/><rect x="254.5" y="4.5" width="5" height="7.5" fill="#20D040" stroke="#108020" stroke-width="0.8"/>
<use href="#axes" x="276" y="0"/><path d="M277.5 13 C281 7 283 5.5 285 7.5 S288 11 289.5 11.5" stroke="#208040" stroke-width="1.2" fill="none"/>
<!-- zoom in/out -->
<g><path d="M317.5 11.5 L323.5 16.8" stroke="#C8A020" stroke-width="2.6" stroke-linecap="round"/><circle cx="313.8" cy="8" r="5" fill="url(#lens)" stroke="#3C80D0" stroke-width="1.2"/><path d="M311 8 H316.6 M313.8 5.2 V10.8" stroke="#2868C0" stroke-width="1.5"/></g>
<g><path d="M346 11.5 L352 16.8" stroke="#C8A020" stroke-width="2.6" stroke-linecap="round"/><circle cx="342.3" cy="8" r="5" fill="url(#lens)" stroke="#3C80D0" stroke-width="1.2"/><path d="M339.5 8 H345.1" stroke="#2868C0" stroke-width="1.5"/></g>
<!-- grid -->
<g shape-rendering="crispEdges"><rect x="364" y="2" width="8" height="8" fill="#48A028"/><rect x="372" y="2" width="8" height="8" fill="#2858D0"/><rect x="364" y="10" width="8" height="8" fill="#2858D0"/><rect x="372" y="10" width="8" height="8" fill="#48A028"/>
<g fill="#E8F0FF"><rect x="365.5" y="5" width="5" height="3"/><rect x="373.5" y="5" width="5" height="3"/><rect x="365.5" y="13" width="5" height="3"/><rect x="373.5" y="13" width="5" height="3"/></g></g>
<!-- autoscroll / shift -->
<use href="#axes" x="400" y="0"/><path d="M407.5 6 L411 9.5 L407.5 13 Z" fill="#30C040" stroke="#108020" stroke-width="0.6"/>
<use href="#axes" x="428" y="0"/><rect x="436" y="4" width="1.2" height="10.5" fill="#1060A0"/><path d="M438 9.5 H442.5 M440 7.5 L438 9.5 L440 11.5" stroke="#D04010" stroke-width="1.1" fill="none"/>
<!-- indicator -->
<path d="M461.5 3 H469 L472.5 6.5 V15 H461.5 Z" fill="#FCFCFC" stroke="#909090" stroke-width="0.9"/><text x="463" y="11" font-family="'Liberation Serif',serif" font-style="italic" font-size="8px" fill="#606060">f</text>
<path d="M471.2 8.6 V19.4 M465.8 14 H476.6" stroke="#108810" stroke-width="4.2"/><path d="M471.2 9.4 V18.6 M466.6 14 H475.8" stroke="#30D030" stroke-width="2.6"/>
<use href="#dd" x="483.5" y="9"/>
<!-- clock -->
<circle cx="507" cy="9.8" r="7" fill="url(#clk)" stroke="#1C5CC0" stroke-width="2"/><path d="M507 5.5 V10 H510" stroke="#404040" stroke-width="1" fill="none"/>
<use href="#dd" x="522" y="9"/>
<!-- template -->
<rect x="538.5" y="3.5" width="15.5" height="13" fill="#fff" stroke="#3868C0" stroke-width="1"/><rect x="539" y="4" width="14.5" height="2" fill="#88A8E0"/><rect x="539" y="10" width="14.5" height="1" fill="#88A8E0"/>
<path d="M540.5 9 L544 7.8 L546.5 8.6 L549 7.4 L552 7" stroke="#B02010" stroke-width="1" fill="none"/><path d="M540.5 14.5 L544 13 L546.5 14 L549.5 12.2 L552 14" stroke="#209030" stroke-width="1" fill="none"/>
<use href="#dd" x="561" y="9"/>
<!-- cursor -->
<path d="M590 3 L590 14.5 L592.8 12 L595 17 L596.8 16.2 L594.6 11.4 L598.2 11.2 Z" fill="#404040"/>
<!-- crosshair -->
<path d="M622.5 3 V18 M615 10.5 H630" stroke="#404040" stroke-width="1" shape-rendering="crispEdges"/>
<!-- lines -->
<g stroke="#404040" stroke-width="1" fill="none"><path d="M656.5 4 V17" shape-rendering="crispEdges"/><path d="M679 10.5 H691" shape-rendering="crispEdges"/><path d="M707 17 L719 5"/>
<path d="M733 13.5 L746 5.5 M734 16.5 L747 8.5 M736.5 15 L738.5 8 M740 13.5 L742 6 M743.5 11.5 L745.5 4" stroke-width="1.1"/></g>
<text x="743.5" y="18.8" font-family="'Liberation Sans',sans-serif" font-size="7px" font-weight="bold" fill="#303030">E</text>
<g stroke="#404040" stroke-width="1" stroke-dasharray="1 1" shape-rendering="crispEdges"><path d="M762 3.5 H775 M762 7.5 H775 M762 11.5 H775 M762 15.5 H771"/></g>
<text x="771.5" y="18.8" font-family="'Liberation Sans',sans-serif" font-size="7px" font-weight="bold" fill="#303030">F</text>
<text x="796.6" y="14.6" text-anchor="middle" font-family="'Liberation Sans',sans-serif" font-size="11.5px" fill="#505050" stroke="#505050" stroke-width="0.5">A</text>
<rect x="819.5" y="4.5" width="11" height="12" fill="none" stroke="#505050" stroke-width="1" stroke-dasharray="1 1" shape-rendering="crispEdges"/><rect x="818.5" y="3.5" width="2" height="2" fill="#505050"/>
<text x="825" y="14.8" text-anchor="middle" font-family="'Liberation Sans',sans-serif" font-size="11px" font-weight="bold" fill="#505050">T</text>
<path d="M850 4.5 L853.4 8 H846.6 Z M856 17 L852.6 13.5 H859.4 Z" fill="#404040"/><path d="M848.6 10.4 L851.4 13 L855.6 8" stroke="#404040" stroke-width="1.3" fill="none"/>
<use href="#dd" x="867" y="9"/>
<!-- search -->
<path d="M1606.3 10.6 L1602 14.6" stroke="#1848C0" stroke-width="2.6" stroke-linecap="round"/><circle cx="1609.4" cy="7.3" r="3.9" fill="#F4F4FF" stroke="#2860D0" stroke-width="1.2"/>
<!-- chat -->
<path transform="translate(1,0)" d="M1631.5 7.4 C1635 7.4 1637.6 9.2 1637.6 11.8 C1637.6 14.4 1635 16.2 1631.5 16.2 L1629.4 18.4 L1629.4 16 C1627.4 15.4 1625.6 13.8 1625.6 11.8 C1625.6 9.2 1628 7.4 1631.5 7.4 Z" fill="#E8E8F0" stroke="#A8A8A8" stroke-width="0.9"/>
<circle cx="1640.5" cy="7.4" r="8.3" fill="url(#badge)"/>
<text x="1640" y="12" text-anchor="middle" font-family="'Liberation Serif',serif" font-weight="bold" font-size="13.5px" fill="#fff">1</text>
</svg>
</div>
</body></html>
